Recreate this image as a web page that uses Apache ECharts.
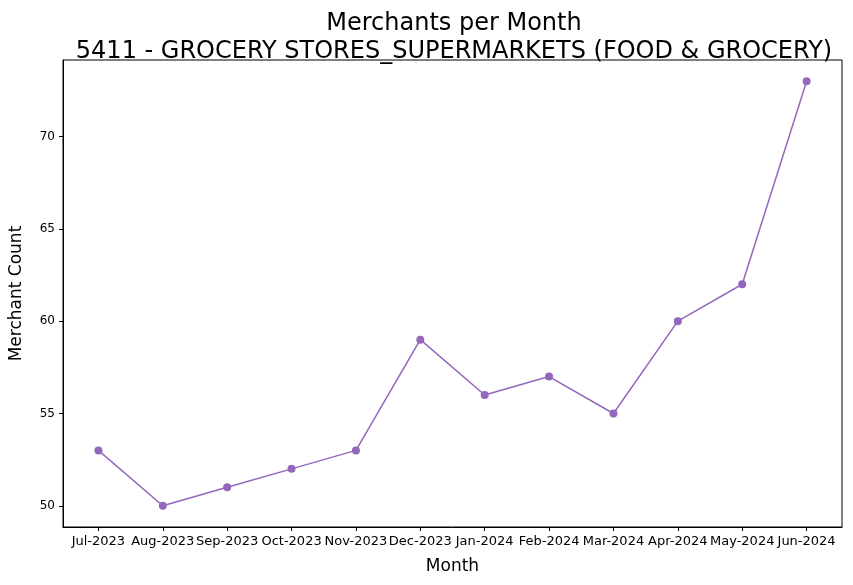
<!DOCTYPE html>
<html><head><meta charset="utf-8">
<script src="https://cdn.jsdelivr.net/npm/echarts@6/dist/echarts.min.js"></script>
<style>html,body{margin:0;padding:0;background:#fff}#main{width:853px;height:585px}</style>
</head><body><div id="main"></div>
<script>
const months = ['Jul-2023','Aug-2023','Sep-2023','Oct-2023','Nov-2023','Dec-2023','Jan-2024','Feb-2024','Mar-2024','Apr-2024','May-2024','Jun-2024'];
const counts = [53, 50, 51, 52, 53, 59, 56, 57, 55, 60, 62, 73];
const yTicks = [50, 55, 60, 65, 70];

const chart = echarts.init(document.getElementById('main'));
const font = 'DejaVu Sans';
chart.setOption({
  animation: false,
  textStyle: { fontFamily: font },
  title: {
    text: 'Merchants per Month\n5411 - GROCERY STORES_SUPERMARKETS (FOOD & GROCERY)',
    left: 449, top: 5, textAlign: 'center',
    textStyle: { fontFamily: font, fontSize: 24, fontWeight: 'normal', color: '#000', lineHeight: 28 }
  },
  grid: { left: 62, right: 11, top: 60, bottom: 58, show: true, borderColor: '#000', borderWidth: 1 },
  xAxis: {
    type: 'value', min: -0.55, max: 11.55,
    name: 'Month', nameLocation: 'middle', nameGap: 31,
    nameTextStyle: { fontSize: 17, color: '#000' },
    splitLine: { show: false },
    axisLine: { onZero: false, lineStyle: { color: '#000' } },
    axisTick: { customValues: months.map((m, i) => i), length: 4, lineStyle: { color: '#000' } },
    axisLabel: { customValues: months.map((m, i) => i), formatter: v => months[Math.round(v)], color: '#000', fontSize: 13, margin: 8 }
  },
  yAxis: {
    type: 'value', min: 48.85, max: 74.15,
    name: 'Merchant Count', nameLocation: 'middle', nameGap: 38,
    nameTextStyle: { fontSize: 17, color: '#000' },
    splitLine: { show: false },
    axisLine: { show: true, onZero: false, lineStyle: { color: '#000' } },
    axisTick: { show: true, customValues: yTicks, length: 4, lineStyle: { color: '#000' } },
    axisLabel: { customValues: yTicks, color: '#000', fontSize: 12, margin: 8 }
  },
  series: [{
    type: 'line',
    data: counts.map((c, i) => [i, c]),
    symbol: 'circle', symbolSize: 8,
    itemStyle: { color: '#9467bd' },
    lineStyle: { color: '#9467bd', width: 1.5 }
  }]
});
</script></body></html>
